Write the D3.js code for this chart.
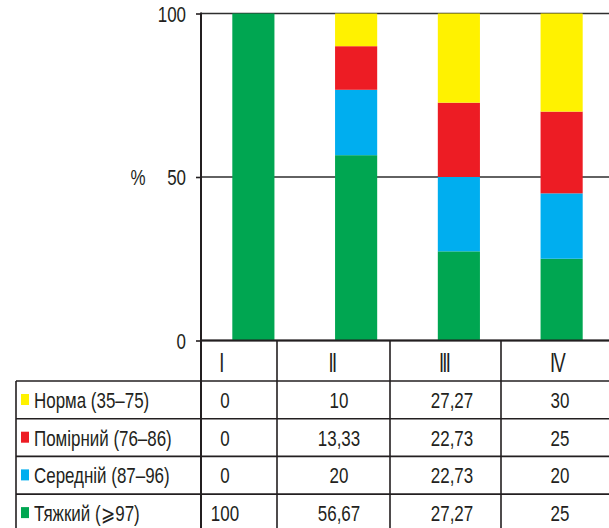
<!DOCTYPE html>
<html>
<head>
<meta charset="utf-8">
<script src="https://cdn.jsdelivr.net/npm/d3@7"></script>
<style>
  html, body { margin: 0; padding: 0; background: #fff; }
  svg { display: block; }
  text { font-family: "Liberation Sans", Arial, sans-serif; fill: #231f20; }
</style>
</head>
<body>
<svg id="chart" width="609" height="528"></svg>
<script>
// Stages (table columns / bar groups)
const stages = ["I", "II", "III", "IV"];

// Severity groups, listed as in the table (top to bottom)
const groupNames = ["Норма (35–75)", "Помірний (76–86)", "Середній (87–96)", "Тяжкий (⩾97)"];
const groupColors = ["#fff200", "#ed1c24", "#00aeef", "#00a651"];

// Share of patients, %, per stage
const normaValues    = [0, 10, 27.27, 30];
const pomirnyiValues = [0, 13.33, 22.73, 25];
const serednijValues = [0, 20, 22.73, 20];
const tiazhkyiValues = [100, 56.67, 27.27, 25];

const yTicks = [0, 50, 100];

const rowsValues = [normaValues, pomirnyiValues, serednijValues, tiazhkyiValues];

// Stack order from the bottom: Тяжкий, Середній, Помірний, Норма
const stackKeys = [3, 2, 1, 0];
const table = stages.map((s, i) => {
  const row = { stage: s };
  groupNames.forEach((g, k) => { row[k] = rowsValues[k][i]; });
  return row;
});

const svg = d3.select("#chart");
const W = 609, H = 528;
const axisX = 201;
const plotTop = 13.5, plotBottom = 340.5;
const FS = 22;        // body font size
const SX = 0.77;      // horizontal squeeze for a condensed look

const x = d3.scaleBand().domain(stages).range([202, 613]).paddingInner(0.59).paddingOuter(0.295);
const y = d3.scaleLinear().domain([0, 100]).range([plotBottom, plotTop]);

const ink = "#231f20";

// Place a text node at (px, py) with condensed width
function condensed(sel, px, py, sx = SX) {
  return sel.attr("x", 0).attr("y", 0)
    .attr("transform", function (d, i) {
      const tx = typeof px === "function" ? px(d, i) : px;
      const ty = typeof py === "function" ? py(d, i) : py;
      return `translate(${tx},${ty}) scale(${sx},1)`;
    });
}

// Gridlines at the labelled ticks
svg.append("g").selectAll("line").data(yTicks).join("line")
  .attr("x1", axisX).attr("x2", W)
  .attr("y1", d => y(d)).attr("y2", d => y(d))
  .attr("stroke", "#2e2e2e").attr("stroke-width", 1.6);

// Stacked bars
const series = d3.stack().keys(stackKeys)(table);
svg.append("g").selectAll("g").data(series).join("g")
  .attr("fill", d => groupColors[d.key])
  .selectAll("rect").data(d => d).join("rect")
  .attr("x", d => x(d.data.stage))
  .attr("width", x.bandwidth())
  .attr("y", d => y(d[1]))
  .attr("height", d => y(d[0]) - y(d[1]));

// Zero line redrawn over the bars
svg.append("line")
  .attr("x1", axisX).attr("x2", W)
  .attr("y1", y(0)).attr("y2", y(0))
  .attr("stroke", ink).attr("stroke-width", 1.8);

// Y axis
const yAxis = d3.axisLeft(y).tickValues(yTicks).tickSize(5).tickPadding(10).tickFormat(d3.format("d"));
const gy = svg.append("g").attr("transform", `translate(${axisX},0)`).call(yAxis);
gy.select(".domain").remove();
gy.selectAll(".tick line").attr("stroke", ink).attr("stroke-width", 1.6);
gy.selectAll(".tick text")
  .attr("font-family", null)
  .attr("font-size", FS)
  .attr("dy", "0.36em")
  .attr("fill", ink)
  .call(condensed, -15, 0);

svg.append("text")
  .attr("dy", "0.36em")
  .attr("text-anchor", "middle").attr("font-size", FS)
  .call(condensed, 138, y(50))
  .text("%");

// Data table under the chart
const colEdges = [axisX, 277, 390, 501, W];
const headerX = [221, 332, 444, 557];
const valueX = [225, 339, 452, 560];
const headerTop = plotBottom, headerBottom = 381;
const rowH = 37.7;
const tableLeft = 16;

const tg = svg.append("g");

// Horizontal rules
const rowEdges = d3.range(groupNames.length + 1).map(i => headerBottom + i * rowH);
tg.selectAll("line.h").data(rowEdges).join("line").attr("class", "h")
  .attr("x1", tableLeft).attr("x2", W)
  .attr("y1", d => d).attr("y2", d => d)
  .attr("stroke", ink).attr("stroke-width", 1.6);

// Left border of the label column
tg.append("line")
  .attr("x1", tableLeft).attr("x2", tableLeft)
  .attr("y1", headerBottom).attr("y2", H)
  .attr("stroke", ink).attr("stroke-width", 1.6);

// Column separators (the first one continues the y axis)
tg.selectAll("line.v").data(colEdges.slice(1, 4)).join("line").attr("class", "v")
  .attr("x1", d => d).attr("x2", d => d)
  .attr("y1", headerTop).attr("y2", H)
  .attr("stroke", ink).attr("stroke-width", 1.6);

svg.append("line")
  .attr("x1", axisX).attr("x2", axisX)
  .attr("y1", plotTop - 1).attr("y2", H)
  .attr("stroke", ink).attr("stroke-width", 2);

// Header: stage numerals
tg.selectAll("text.hdr").data(stages).join("text").attr("class", "hdr")
  .attr("text-anchor", "middle").attr("font-size", 27)
  .attr("letter-spacing", "-2.5px")
  .call(condensed, (d, i) => headerX[i], 372, 0.68)
  .text(d => d);

// Row labels with colour keys
const rows = tg.selectAll("g.row").data(groupNames).join("g").attr("class", "row")
  .attr("transform", (d, i) => `translate(0,${rowEdges[i]})`);
rows.append("rect")
  .attr("x", 21).attr("y", 13).attr("width", 8).attr("height", 11)
  .attr("fill", (d, i) => groupColors[i]);
rows.append("text")
  .attr("font-size", FS)
  .call(condensed, 34, 27)
  .text(d => d);

// Values
rows.each(function (d, k) {
  d3.select(this).selectAll("text.val").data(rowsValues[k]).join("text").attr("class", "val")
    .attr("text-anchor", "middle").attr("font-size", FS)
    .call(condensed, (v, i) => valueX[i], 27)
    .text(v => String(v).replace(".", ","));
});
</script>
</body>
</html>
